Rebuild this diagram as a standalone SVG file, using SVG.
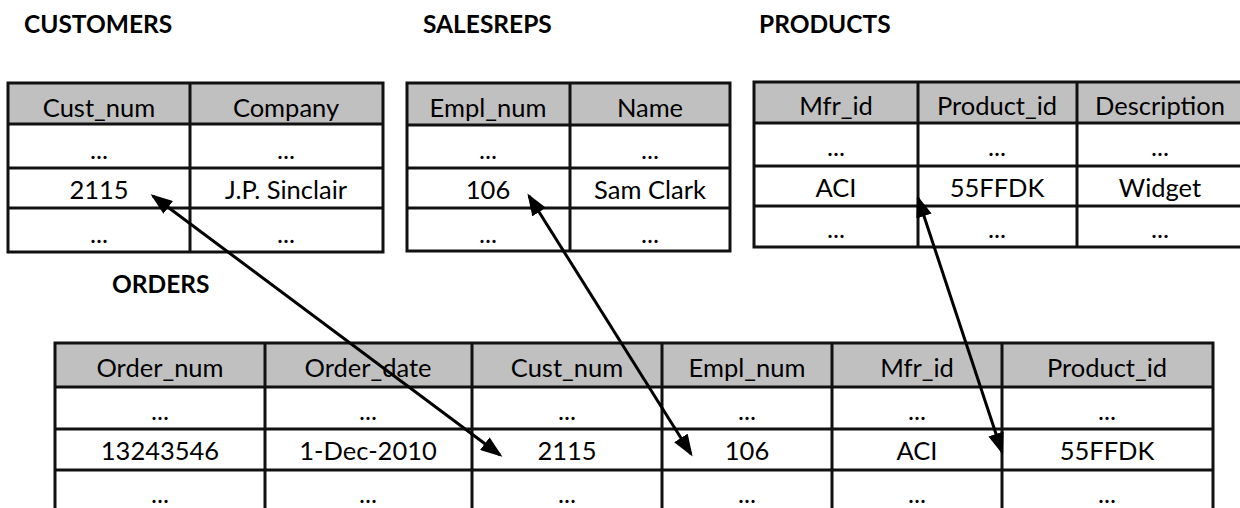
<svg xmlns="http://www.w3.org/2000/svg" width="1240" height="508" viewBox="0 0 1240 508">
  <style>
    .title { font-family: Lato, "Liberation Sans", sans-serif; font-weight: bold; font-size: 24.5px; fill: #000; }
    .cell { font-family: Lato, "Liberation Sans", sans-serif; font-size: 25.5px; fill: #000; text-anchor: middle; }
    .hdr { fill: #c0c0c0; stroke: none; }
    .grid { stroke: #111; stroke-width: 3; fill: none; }
    .link { stroke: #000; stroke-width: 3; fill: none; marker-start: url(#arrow); marker-end: url(#arrow); }
  </style>
  <defs>
    <marker id="arrow" markerUnits="userSpaceOnUse" viewBox="0 0 22 16" markerWidth="22" markerHeight="16" refX="19" refY="8" orient="auto-start-reverse">
      <path d="M0,0 L22,8 L0,16 z" fill="#000"/>
    </marker>
  </defs>
  <rect width="1240" height="508" fill="#fff"/>

  <!-- table titles -->
  <text class="title" x="24" y="33">CUSTOMERS</text>
  <text class="title" x="423" y="33">SALESREPS</text>
  <text class="title" x="759" y="33">PRODUCTS</text>
  <text class="title" x="112" y="293">ORDERS</text>

  <!-- CUSTOMERS table -->
  <g id="customers">
    <rect class="hdr" x="8" y="83" width="375" height="41"/>
    <path class="grid" d="M8,83 H383 V252 H8 Z M190,83 V252 M8,124 H383 M8,168 H383 M8,208 H383"/>
    <text class="cell" x="99" y="117">Cust_num</text>
    <text class="cell" x="286" y="117">Company</text>
    <text class="cell" x="99" y="159">...</text>
    <text class="cell" x="286" y="159">...</text>
    <text class="cell" x="99" y="199">2115</text>
    <text class="cell" x="286" y="199">J.P. Sinclair</text>
    <text class="cell" x="99" y="243">...</text>
    <text class="cell" x="286" y="243">...</text>
  </g>

  <!-- SALESREPS table -->
  <g id="salesreps">
    <rect class="hdr" x="407" y="83" width="323" height="42"/>
    <path class="grid" d="M407,83 H730 V251 H407 Z M570,83 V251 M407,125 H730 M407,168 H730 M407,208 H730"/>
    <text class="cell" x="488" y="117">Empl_num</text>
    <text class="cell" x="650" y="117">Name</text>
    <text class="cell" x="488" y="159">...</text>
    <text class="cell" x="650" y="159">...</text>
    <text class="cell" x="488" y="199">106</text>
    <text class="cell" x="650" y="199">Sam Clark</text>
    <text class="cell" x="488" y="243">...</text>
    <text class="cell" x="650" y="243">...</text>
  </g>

  <!-- PRODUCTS table -->
  <g id="products">
    <rect class="hdr" x="754" y="82" width="490" height="41"/>
    <path class="grid" d="M1244,82 H754 V247 H1244 M918,82 V247 M1077,82 V247 M754,123 H1244 M754,166 H1244 M754,206 H1244"/>
    <text class="cell" x="836" y="115">Mfr_id</text>
    <text class="cell" x="997" y="115">Product_id</text>
    <text class="cell" x="1160" y="115">Description</text>
    <text class="cell" x="836" y="156">...</text>
    <text class="cell" x="997" y="156">...</text>
    <text class="cell" x="1160" y="156">...</text>
    <text class="cell" x="836" y="197">ACI</text>
    <text class="cell" x="997" y="197">55FFDK</text>
    <text class="cell" x="1160" y="197">Widget</text>
    <text class="cell" x="836" y="238">...</text>
    <text class="cell" x="997" y="238">...</text>
    <text class="cell" x="1160" y="238">...</text>
  </g>

  <!-- ORDERS table -->
  <g id="orders">
    <rect class="hdr" x="55" y="343" width="1158" height="44"/>
    <path class="grid" d="M55,515 V343 H1213 V515 M265,343 V515 M472,343 V515 M662,343 V515 M832,343 V515 M1002,343 V515 M55,387 H1213 M55,429 H1213 M55,470 H1213"/>
    <text class="cell" x="160" y="377">Order_num</text>
    <text class="cell" x="368" y="377">Order_date</text>
    <text class="cell" x="567" y="377">Cust_num</text>
    <text class="cell" x="747" y="377">Empl_num</text>
    <text class="cell" x="917" y="377">Mfr_id</text>
    <text class="cell" x="1107" y="377">Product_id</text>
    <text class="cell" x="160" y="420">...</text>
    <text class="cell" x="368" y="420">...</text>
    <text class="cell" x="567" y="420">...</text>
    <text class="cell" x="747" y="420">...</text>
    <text class="cell" x="917" y="420">...</text>
    <text class="cell" x="1107" y="420">...</text>
    <text class="cell" x="160" y="460">13243546</text>
    <text class="cell" x="368" y="460">1-Dec-2010</text>
    <text class="cell" x="567" y="460">2115</text>
    <text class="cell" x="747" y="460">106</text>
    <text class="cell" x="917" y="460">ACI</text>
    <text class="cell" x="1107" y="460">55FFDK</text>
    <text class="cell" x="160" y="503">...</text>
    <text class="cell" x="368" y="503">...</text>
    <text class="cell" x="567" y="503">...</text>
    <text class="cell" x="747" y="503">...</text>
    <text class="cell" x="917" y="503">...</text>
    <text class="cell" x="1107" y="503">...</text>
  </g>

  <!-- foreign-key links -->
  <g id="links">
    <line class="link" x1="153" y1="196" x2="500" y2="455"/>
    <line class="link" x1="529" y1="196" x2="691" y2="454"/>
    <line class="link" x1="918" y1="198" x2="1002" y2="452"/>
  </g>
</svg>
